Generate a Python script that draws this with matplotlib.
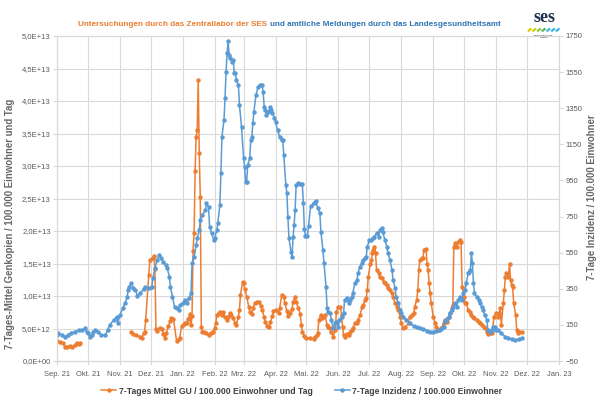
import numpy as np
import matplotlib
matplotlib.use('Agg')
import matplotlib.pyplot as plt

plt.rcParams['font.family'] = ['Liberation Sans', 'DejaVu Sans']

# days are counted from this date
start_date = np.datetime64('2021-09-01')

# 7-Tages Mittel GU / 100.000 Einwohner und Tag (in 1E+12), nan = gap in data
gu_days = [0, 3, 6, 8, 10, 13, 15, 17, 19, 21, 22, 45,
           72, 74, 77, 81, 82, 84, 85, 86, 89, 90, 93, 94, 95, 96, 97, 100, 102, 103,
           105, 106, 108, 110, 111, 113, 116, 118, 119, 121, 123, 124, 126, 127, 129, 130,
           131, 132, 133, 134, 135, 136, 137, 138, 139, 140, 141, 143, 145, 147, 149, 151,
           153, 154, 155, 157, 158, 160, 161, 163, 165, 166, 168, 169, 171, 173, 174, 176,
           177, 178, 180, 181, 182, 184, 186, 187, 189, 190, 192, 194, 196, 198, 199, 201,
           202, 204, 206, 207, 209, 210, 212, 215, 216, 218, 220, 221, 223, 224, 226, 228,
           229, 231, 232, 234, 236, 237, 238, 240, 242, 245, 249, 250, 252, 253, 254, 256,
           257, 258, 260, 262, 263, 265, 266, 268, 270, 271, 273, 275, 276, 277, 278, 279,
           281, 283, 284, 286, 287, 289, 291, 292, 294, 296, 297, 299, 300, 301, 302, 304,
           305, 306, 307, 308, 309, 310, 312, 313, 315, 317, 318, 320, 321, 323, 325, 326,
           328, 330, 331, 333, 334, 336, 338, 341, 342, 344, 346, 347, 349, 350, 351, 352,
           354, 355, 356, 358, 359, 360, 361, 362, 363, 365, 367, 368, 371, 373, 375, 376,
           378, 380, 381, 383, 384, 385, 386, 388, 389, 391, 392, 393, 395, 396, 397, 399,
           401, 402, 404, 405, 407, 409, 410, 412, 414, 415, 417, 418, 420, 422, 424, 426,
           428, 429, 430, 431, 433, 434, 435, 436, 438, 439, 440, 441, 442, 443, 445, 446,
           447, 448, 451]
gu_vals = [3.08, 2.92, 2.72, 2.2, 2.2, 2.31, 2.2, 2.46, 2.72, 2.62, 2.72, np.nan,
           4.51, 4.15, 4.0, 3.74, 3.49, 4.26, 4.51, 6.31, 13.2, 15.5, 15.9, 16.2, 14.2, 4.88, 4.62, 5.12, 4.88, 4.11,
           3.58, 4.35, 5.38, 6.15, 6.66, 6.42, 3.08, 3.34, 3.58, 5.38, 5.65, 5.89, 5.89, 6.42, 7.18, 5.5,
           6.9, 17.0, 19.7, 29.3, 34.5, 35.5, 43.2, 32.0, 25.2, 5.3, 4.5, 4.51, 4.26, 4.0, 4.26, 4.51,
           5.03, 5.8, 7.08, 7.34, 7.58, 7.08, 7.58, 6.82, 6.31, 6.82, 7.34, 7.08, 6.57, 5.8, 5.54, 6.82,
           7.85, 10.2, 12.1, 11.95, 11.15, 9.92, 8.35, 7.58, 7.23, 8.15, 8.92, 9.08, 9.08, 8.46, 7.85, 6.77,
           6.0, 5.46, 5.23, 6.0, 6.85, 7.69, 7.92, 7.38, 8.15, 10.1, 9.77, 8.92, 7.69, 6.85, 7.38, 8.0,
           9.08, 9.92, 9.08, 8.15, 7.23, 5.54, 4.51, 3.85, 3.58, 3.58, 3.38, 3.74, 4.0, 4.26, 6.31, 7.08,
           6.57, 6.82, 7.08, 5.54, 5.28, 5.03, 4.51, 3.74, 4.77, 7.58, 8.35, 8.35, 7.08, 5.28, 4.0, 3.74,
           4.15, 4.0, 4.51, 4.77, 5.03, 5.8, 5.8, 6.31, 7.08, 8.35, 8.62, 9.38, 9.65, 10.9, 13.0, 15.0,
           15.5, 16.6, 17.1, 17.6, 16.6, 14.0, 13.5, 13.0, 12.7, 12.2, 11.95, 11.7, 11.2, 10.9, 10.4, 9.89,
           8.88, 8.35, 7.85, 6.82, 5.8, 5.03, 5.28, 5.8, 6.82, 7.08, 7.34, 8.35, 9.38, 10.9, 14.0, 15.5,
           15.8, 15.8, 17.1, 17.3, 15.0, 14.0, 11.95, 10.4, 8.88, 6.82, 5.8, 5.28, 4.77, 5.03, 5.8, 6.31,
           6.05, 6.82, 7.34, 8.11, 8.62, 17.6, 18.1, 17.6, 18.35, 18.6, 18.35, 11.4, 9.89, 8.88, 8.88, 7.85,
           7.58, 7.08, 6.82, 6.57, 6.31, 6.05, 5.8, 5.54, 5.28, 5.03, 4.51, 4.15, 4.26, 4.26, 6.82, 7.34,
           6.82, 7.34, 8.11, 5.54, 8.88, 10.9, 13.0, 13.5, 13.0, 15.0, 12.5, 11.7, 11.4, 8.88, 7.08, 4.77,
           4.26, 4.51, 4.51]

# 7-Tage Inzidenz / 100.000 Einwohner
inz_days = [0, 1, 5, 8, 11, 14, 17, 21, 24, 27, 29, 30, 32, 34, 35, 37, 40, 43, 47, 49,
            51, 55, 58, 59, 61, 64, 66, 68, 69, 70, 72, 74, 76, 78, 81, 84, 85, 89, 92, 93,
            95, 97, 99, 101, 103, 106, 107, 109, 110, 112, 114, 116, 118, 119, 122, 124, 126, 128, 130, 131,
            133, 135, 136, 138, 139, 141, 144, 145, 147, 148, 150, 152, 153, 155, 156, 158, 159, 160, 162, 163,
            164, 165, 166, 167, 168, 170, 171, 172, 173, 174, 176, 177, 179, 181, 182, 183, 184, 185, 187, 188,
            189, 190, 191, 193, 195, 197, 199, 200, 201, 202, 203, 205, 207, 208, 209, 211, 212, 214, 216, 218,
            219, 220, 222, 223, 224, 225, 227, 228, 229, 230, 231, 232, 234, 236, 238, 239, 240, 241, 243, 244,
            246, 249, 251, 253, 255, 256, 258, 259, 261, 262, 263, 265, 266, 268, 270, 271, 273, 274, 276, 278,
            279, 281, 283, 284, 286, 287, 289, 291, 292, 294, 296, 297, 299, 300, 301, 303, 305, 307, 308, 310,
            312, 313, 315, 316, 318, 320, 321, 323, 325, 326, 328, 329, 331, 333, 334, 336, 339, 342, 346, 349,
            352, 355, 359, 362, 365, 368, 371, 373, 375, 376, 378, 380, 381, 383, 384, 386, 388, 389, 391, 393,
            394, 396, 397, 399, 400, 401, 402, 403, 404, 405, 407, 409, 410, 412, 413, 415, 417, 418, 420, 422,
            423, 425, 426, 428, 431, 435, 438, 441, 444, 448, 451]
inz_vals = [94, 103, 94, 85, 94, 107, 112, 122, 122, 131, 112, 103, 85, 94, 112, 122, 112, 94, 94, 122,
            149, 177, 195, 160, 205, 244, 270, 302, 343, 361, 382, 354, 346, 310, 325, 351, 361, 353, 361, 408,
            463, 509, 537, 519, 500, 482, 463, 417, 361, 306, 251, 242, 232, 260, 270, 288, 270, 297, 325, 491,
            528, 592, 630, 675, 731, 759, 786, 823, 805, 694, 657, 620, 630, 675, 713, 814, 989, 1192, 1285, 1405,
            1552, 1654, 1724, 1645, 1628, 1608, 1617, 1545, 1545, 1506, 1478, 1368, 1246, 1074, 1024, 941, 941, 1035, 1074, 1174,
            1190, 1268, 1329, 1423, 1467, 1478, 1478, 1440, 1357, 1340, 1312, 1329, 1357, 1340, 1323, 1296, 1274, 1229, 1190, 1174,
            1174, 1091, 925, 880, 747, 631, 554, 526, 637, 703, 786, 925, 936, 930, 930, 825, 681, 642, 642, 698,
            808, 825, 836, 797, 770, 666, 565, 493, 361, 244, 223, 216, 177, 133, 160, 168, 140, 177, 195, 216,
            288, 299, 271, 288, 306, 327, 382, 399, 437, 472, 493, 509, 520, 528, 583, 620, 620, 631, 638, 659,
            638, 675, 687, 666, 620, 583, 548, 509, 454, 399, 354, 306, 271, 232, 216, 195, 177, 160, 144, 138,
            133, 127, 118, 112, 112, 116, 122, 127, 140, 170, 185, 195, 216, 232, 251, 271, 251, 288, 306, 288,
            327, 343, 382, 437, 445, 454, 548, 493, 382, 327, 306, 288, 271, 251, 232, 205, 177, 122, 112, 122,
            140, 140, 122, 122, 103, 85, 76, 70, 66, 70, 76]

month_labels = ['Sep. 21', 'Okt. 21', 'Nov. 21', 'Dez. 21', 'Jan. 22', 'Feb. 22', 'Mrz. 22',
                'Apr. 22', 'Mai. 22', 'Jun. 22', 'Jul. 22', 'Aug. 22', 'Sep. 22', 'Okt. 22',
                'Nov. 22', 'Dez. 22', 'Jan. 23']
gu_ticks = [0, 5e12, 1e13, 1.5e13, 2e13, 2.5e13, 3e13, 3.5e13, 4e13, 4.5e13, 5e13]
gu_tick_labels = ['0,0E+00', '5,0E+12', '1,0E+13', '1,5E+13', '2,0E+13', '2,5E+13',
                  '3,0E+13', '3,5E+13', '4,0E+13', '4,5E+13', '5,0E+13']
inz_ticks = [-50, 150, 350, 550, 750, 950, 1150, 1350, 1550, 1750]

title_orange = 'Untersuchungen durch das Zentrallabor der SES'
title_blue = 'und amtliche Meldungen durch das Landesgesundheitsamt'
label_gu = '7-Tages Mittel GU / 100.000 Einwohner und Tag'
label_inz = '7-Tage Inzidenz / 100.000 Einwohner'

orange = '#ED7D31'
blue = '#5B9BD5'
gridc = '#D9D9D9'
textc = '#595959'

gu_dates = start_date + np.array(gu_days).astype('timedelta64[D]')
inz_dates = start_date + np.array(inz_days).astype('timedelta64[D]')
month_dates = np.arange(np.datetime64('2021-09'), np.datetime64('2023-02'),
                        dtype='datetime64[M]').astype('datetime64[D]')

fig = plt.figure(figsize=(6, 3.97), dpi=100)
ax = fig.add_axes([57/600, 1-361/397, (559-57)/600, (361-36)/397])
ax2 = ax.twinx()

l1, = ax.plot(gu_dates, np.array(gu_vals)*1e12, color=orange, lw=1.1,
              marker='o', ms=3.2, mew=0)
l2, = ax2.plot(inz_dates, inz_vals, color=blue, lw=1.1,
               marker='o', ms=3.2, mew=0)

ax.set_xlim(month_dates[0], month_dates[-1])
ax.set_xticks(month_dates)
ax.set_xticklabels(month_labels)
ax.set_ylim(0, 5e13)
ax.set_yticks(gu_ticks)
ax.set_yticklabels(gu_tick_labels)
ax2.set_ylim(-50, 1750)
ax2.set_yticks(inz_ticks)

ax.grid(True, color=gridc, lw=0.8)
ax.set_axisbelow(True)
for a in (ax, ax2):
    for s in a.spines.values():
        s.set_color(gridc)
        s.set_linewidth(0.8)
    a.tick_params(colors=textc, labelsize=5.5, length=3, width=0.8, color=gridc)
ax.tick_params(axis='y', pad=1.5)
ax2.tick_params(axis='y', pad=1.5)
ax.tick_params(axis='x', pad=4.5, labelsize=5.4)

fig.text(10/600, 1-224/397, '7-Tages-Mittel Genkopien / 100.000 Einwohner und Tag',
         rotation=90, ha='center', va='center', fontsize=6.9, weight='bold', color='#666666')
fig.text(592/600, 1-197/397, '7-Tage Inzidenz / 100.000 Einwohner',
         rotation=90, ha='center', va='center', fontsize=6.9, weight='bold', color='#666666')

# two coloured title parts
t1 = fig.text(78/600, 1-24/397, title_orange, ha='left', va='center',
              fontsize=5.9, weight='bold', color=orange)
fig.canvas.draw()
bb = t1.get_window_extent()
fig.text((bb.x1 + 3)/600, 1-24/397, title_blue, ha='left', va='center',
         fontsize=5.9, weight='bold', color='#2E75B6')

fig.legend([l1, l2], [label_gu, label_inz], loc='center', bbox_to_anchor=(0.503, 1-391/397),
           ncol=2, frameon=False, prop={'weight': 'bold', 'size': 6.25}, labelcolor='#404040',
           handlelength=1.7, handletextpad=0.3, columnspacing=2.6)

# logo
lax = fig.add_axes([526/600, 1-38/397, 36/600, 30/397])
lax.set_xlim(0, 1)
lax.set_ylim(0, 1)
lax.axis('off')
lax.text(0.5, 0.68, 'ses', ha='center', va='center', fontsize=13, weight='bold',
         family='Liberation Serif', color='#1F2F4F')
for i, c in enumerate(['#E6C800', '#C8D200', '#8CC63F', '#4DB848', '#3CB4E6', '#3CB4E6', '#3CB4E6']):
    x0 = 0.05 + i*0.13
    lax.plot([x0, x0+0.1], [0.22, 0.32], color=c, lw=1.6, solid_capstyle='butt')
lax.text(0.5, 0.05, 'Stadtentwässerung\nStuttgart', ha='center', va='center', fontsize=1.6,
         color='#333333', linespacing=1.0)

fig.savefig('out.png', dpi=100)
